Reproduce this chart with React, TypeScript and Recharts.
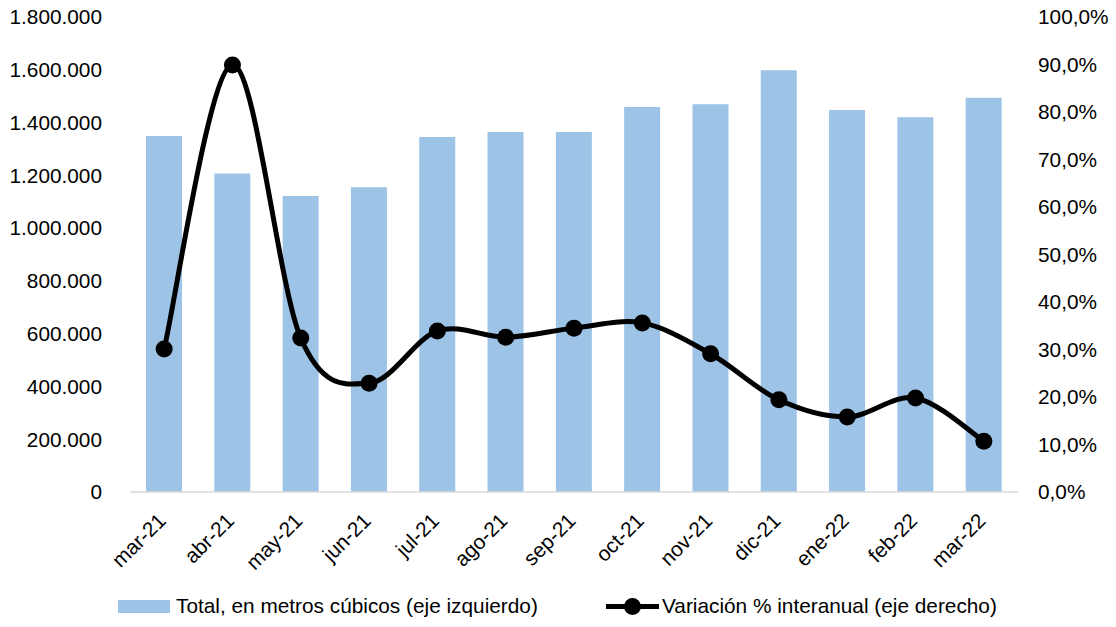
import React from 'react';
import { Bar, ComposedChart, Legend, Line, XAxis, YAxis } from 'recharts';

const months = ['mar-21', 'abr-21', 'may-21', 'jun-21', 'jul-21', 'ago-21', 'sep-21', 'oct-21', 'nov-21', 'dic-21', 'ene-22', 'feb-22', 'mar-22'];
const totalM3 = [1349000, 1207000, 1122000, 1155000, 1345000, 1364000, 1364000, 1459000, 1469000, 1598000, 1448000, 1420000, 1494000];
const variacion = [0.301, 0.899, 0.324, 0.229, 0.339, 0.326, 0.345, 0.356, 0.291, 0.194, 0.158, 0.198, 0.107];
const leftTicks = [0, 200000, 400000, 600000, 800000, 1000000, 1200000, 1400000, 1600000, 1800000];
const rightTicks = [0, 0.1, 0.2, 0.3, 0.4, 0.5, 0.6, 0.7, 0.8, 0.9, 1];

const FONT = '"Liberation Sans", Arial, sans-serif';
const FONT_SIZE = 20.8;
const BAR_COLOR = '#9DC3E6';

const data = months.map((m, i) => ({ month: m, total: totalM3[i], pct: variacion[i] }));

function fmtThousands(v: number): string {
  return Math.round(v).toString().replace(/\B(?=(\d{3})+(?!\d))/g, '.');
}

function fmtPct(v: number): string {
  return (v * 100).toFixed(1).replace('.', ',') + '%';
}

// Excel-style smoothed line (bezier with 1/6 neighbour tangents)
function excelSmooth(context: any) {
  let pts: number[][] = [];
  return {
    areaStart() {},
    areaEnd() {},
    lineStart() {
      pts = [];
    },
    point(x: number, y: number) {
      pts.push([+x, +y]);
    },
    lineEnd() {
      if (!pts.length) return;
      context.moveTo(pts[0][0], pts[0][1]);
      for (let i = 0; i < pts.length - 1; i++) {
        const p0 = pts[i - 1] || pts[i];
        const p1 = pts[i];
        const p2 = pts[i + 1];
        const p3 = pts[i + 2] || p2;
        context.bezierCurveTo(
          p1[0] + (p2[0] - p0[0]) / 6,
          p1[1] + (p2[1] - p0[1]) / 6,
          p2[0] - (p3[0] - p1[0]) / 6,
          p2[1] - (p3[1] - p1[1]) / 6,
          p2[0],
          p2[1],
        );
      }
    },
  };
}

function MonthTick({ x, y, payload }: any) {
  const ax = x + 3;
  const ay = y + 22;
  return (
    <text
      x={ax}
      y={ay}
      transform={`rotate(-45, ${ax}, ${ay})`}
      textAnchor="end"
      fontFamily={FONT}
      fontSize={FONT_SIZE}
      fill="#000"
    >
      {payload.value}
    </text>
  );
}

function ChartLegend() {
  return (
    <div style={{ position: 'relative', width: 1116, height: 36, fontFamily: FONT, fontSize: FONT_SIZE, color: '#000' }}>
      <div style={{ position: 'absolute', left: 118, top: 9, width: 52, height: 13, background: BAR_COLOR }} />
      <div style={{ position: 'absolute', left: 176, top: 3, whiteSpace: 'nowrap' }}>
        Total, en metros cúbicos (eje izquierdo)
      </div>
      <div style={{ position: 'absolute', left: 606, top: 13, width: 53, height: 5, background: '#000' }} />
      <div style={{ position: 'absolute', left: 624, top: 7, width: 17, height: 17, borderRadius: '50%', background: '#000' }} />
      <div style={{ position: 'absolute', left: 662, top: 3, whiteSpace: 'nowrap' }}>
        Variación % interanual (eje derecho)
      </div>
    </div>
  );
}

export default function App() {
  return (
    <div style={{ position: 'absolute', left: 0, top: 0, width: 1116, height: 627, background: '#fff' }}>
      <ComposedChart width={1116} height={627} data={data} margin={{ top: 17, right: 0, left: 0, bottom: 0 }}>
        <XAxis
          dataKey="month"
          tick={<MonthTick />}
          tickLine={false}
          axisLine={{ stroke: '#d9d9d9', strokeWidth: 1.5 }}
          height={99}
          interval={0}
        />
        <YAxis
          yAxisId="left"
          orientation="left"
          width={130}
          domain={[0, 1800000]}
          ticks={leftTicks}
          tickFormatter={fmtThousands}
          axisLine={false}
          tickLine={false}
          tickMargin={22}
          tick={{ fontFamily: FONT, fontSize: FONT_SIZE, fill: '#000' }}
          interval={0}
        />
        <YAxis
          yAxisId="right"
          orientation="right"
          width={98}
          domain={[0, 1]}
          ticks={rightTicks}
          tickFormatter={fmtPct}
          axisLine={false}
          tickLine={false}
          tickMargin={14}
          tick={{ fontFamily: FONT, fontSize: FONT_SIZE, fill: '#000', textAnchor: 'start' }}
          interval={0}
        />
        <Legend verticalAlign="bottom" content={<ChartLegend />} wrapperStyle={{ left: 0, width: 1116 }} />
        <Bar yAxisId="left" dataKey="total" fill={BAR_COLOR} barSize={36} isAnimationActive={false} />
        <Line
          yAxisId="right"
          dataKey="pct"
          type={excelSmooth as any}
          stroke="#000"
          strokeWidth={5}
          dot={{ r: 8.5, fill: '#000', stroke: '#000', strokeWidth: 0 }}
          isAnimationActive={false}
        />
      </ComposedChart>
    </div>
  );
}
